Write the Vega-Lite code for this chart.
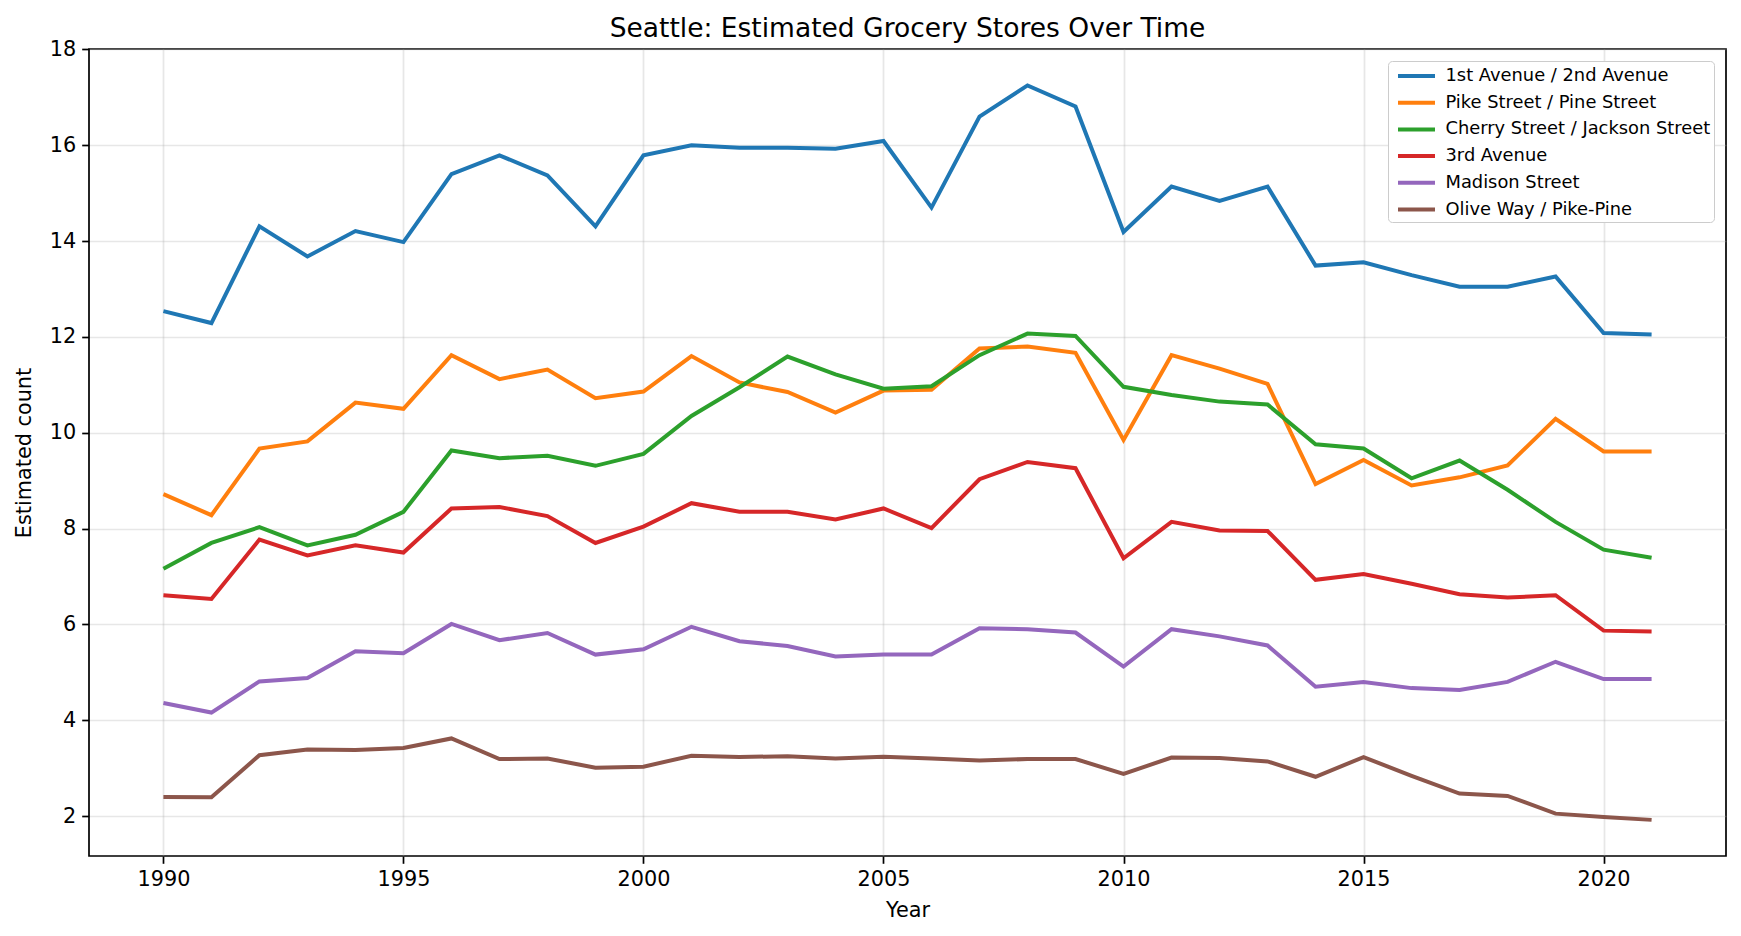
{
  "$schema": "https://vega.github.io/schema/vega-lite/v6.json",
  "autosize": "none",
  "width": 1637,
  "height": 807,
  "padding": {"left": 89, "top": 49, "right": 15, "bottom": 80},
  "background": "white",
  "config": {
    "font": "DejaVu Sans",
    "view": {"stroke": "black", "strokeWidth": 1.7}
  },
  "title": {"text": "Seattle: Estimated Grocery Stores Over Time", "fontSize": 26.5, "fontWeight": "normal", "font": "DejaVu Sans", "color": "black", "offset": -4},
  "data": {"values": [
    {"year":1990,"area":"1st Avenue / 2nd Avenue","count":12.54},{"year":1991,"area":"1st Avenue / 2nd Avenue","count":12.29},{"year":1992,"area":"1st Avenue / 2nd Avenue","count":14.31},{"year":1993,"area":"1st Avenue / 2nd Avenue","count":13.68},{"year":1994,"area":"1st Avenue / 2nd Avenue","count":14.21},{"year":1995,"area":"1st Avenue / 2nd Avenue","count":13.98},{"year":1996,"area":"1st Avenue / 2nd Avenue","count":15.40},{"year":1997,"area":"1st Avenue / 2nd Avenue","count":15.79},{"year":1998,"area":"1st Avenue / 2nd Avenue","count":15.37},{"year":1999,"area":"1st Avenue / 2nd Avenue","count":14.31},{"year":2000,"area":"1st Avenue / 2nd Avenue","count":15.79},{"year":2001,"area":"1st Avenue / 2nd Avenue","count":16.00},{"year":2002,"area":"1st Avenue / 2nd Avenue","count":15.95},{"year":2003,"area":"1st Avenue / 2nd Avenue","count":15.95},{"year":2004,"area":"1st Avenue / 2nd Avenue","count":15.93},{"year":2005,"area":"1st Avenue / 2nd Avenue","count":16.09},{"year":2006,"area":"1st Avenue / 2nd Avenue","count":14.70},{"year":2007,"area":"1st Avenue / 2nd Avenue","count":16.60},{"year":2008,"area":"1st Avenue / 2nd Avenue","count":17.25},{"year":2009,"area":"1st Avenue / 2nd Avenue","count":16.81},{"year":2010,"area":"1st Avenue / 2nd Avenue","count":14.19},{"year":2011,"area":"1st Avenue / 2nd Avenue","count":15.14},{"year":2012,"area":"1st Avenue / 2nd Avenue","count":14.84},{"year":2013,"area":"1st Avenue / 2nd Avenue","count":15.14},{"year":2014,"area":"1st Avenue / 2nd Avenue","count":13.49},{"year":2015,"area":"1st Avenue / 2nd Avenue","count":13.56},{"year":2016,"area":"1st Avenue / 2nd Avenue","count":13.29},{"year":2017,"area":"1st Avenue / 2nd Avenue","count":13.05},{"year":2018,"area":"1st Avenue / 2nd Avenue","count":13.05},{"year":2019,"area":"1st Avenue / 2nd Avenue","count":13.26},{"year":2020,"area":"1st Avenue / 2nd Avenue","count":12.08},{"year":2021,"area":"1st Avenue / 2nd Avenue","count":12.05},
    {"year":1990,"area":"Pike Street / Pine Street","count":8.72},{"year":1991,"area":"Pike Street / Pine Street","count":8.28},{"year":1992,"area":"Pike Street / Pine Street","count":9.67},{"year":1993,"area":"Pike Street / Pine Street","count":9.82},{"year":1994,"area":"Pike Street / Pine Street","count":10.63},{"year":1995,"area":"Pike Street / Pine Street","count":10.50},{"year":1996,"area":"Pike Street / Pine Street","count":11.62},{"year":1997,"area":"Pike Street / Pine Street","count":11.12},{"year":1998,"area":"Pike Street / Pine Street","count":11.32},{"year":1999,"area":"Pike Street / Pine Street","count":10.72},{"year":2000,"area":"Pike Street / Pine Street","count":10.86},{"year":2001,"area":"Pike Street / Pine Street","count":11.60},{"year":2002,"area":"Pike Street / Pine Street","count":11.05},{"year":2003,"area":"Pike Street / Pine Street","count":10.85},{"year":2004,"area":"Pike Street / Pine Street","count":10.42},{"year":2005,"area":"Pike Street / Pine Street","count":10.88},{"year":2006,"area":"Pike Street / Pine Street","count":10.90},{"year":2007,"area":"Pike Street / Pine Street","count":11.76},{"year":2008,"area":"Pike Street / Pine Street","count":11.80},{"year":2009,"area":"Pike Street / Pine Street","count":11.67},{"year":2010,"area":"Pike Street / Pine Street","count":9.85},{"year":2011,"area":"Pike Street / Pine Street","count":11.62},{"year":2012,"area":"Pike Street / Pine Street","count":11.34},{"year":2013,"area":"Pike Street / Pine Street","count":11.02},{"year":2014,"area":"Pike Street / Pine Street","count":8.93},{"year":2015,"area":"Pike Street / Pine Street","count":9.43},{"year":2016,"area":"Pike Street / Pine Street","count":8.90},{"year":2017,"area":"Pike Street / Pine Street","count":9.07},{"year":2018,"area":"Pike Street / Pine Street","count":9.32},{"year":2019,"area":"Pike Street / Pine Street","count":10.29},{"year":2020,"area":"Pike Street / Pine Street","count":9.61},{"year":2021,"area":"Pike Street / Pine Street","count":9.61},
    {"year":1990,"area":"Cherry Street / Jackson Street","count":7.16},{"year":1991,"area":"Cherry Street / Jackson Street","count":7.70},{"year":1992,"area":"Cherry Street / Jackson Street","count":8.03},{"year":1993,"area":"Cherry Street / Jackson Street","count":7.65},{"year":1994,"area":"Cherry Street / Jackson Street","count":7.87},{"year":1995,"area":"Cherry Street / Jackson Street","count":8.35},{"year":1996,"area":"Cherry Street / Jackson Street","count":9.63},{"year":1997,"area":"Cherry Street / Jackson Street","count":9.47},{"year":1998,"area":"Cherry Street / Jackson Street","count":9.52},{"year":1999,"area":"Cherry Street / Jackson Street","count":9.31},{"year":2000,"area":"Cherry Street / Jackson Street","count":9.56},{"year":2001,"area":"Cherry Street / Jackson Street","count":10.35},{"year":2002,"area":"Cherry Street / Jackson Street","count":10.95},{"year":2003,"area":"Cherry Street / Jackson Street","count":11.59},{"year":2004,"area":"Cherry Street / Jackson Street","count":11.22},{"year":2005,"area":"Cherry Street / Jackson Street","count":10.92},{"year":2006,"area":"Cherry Street / Jackson Street","count":10.97},{"year":2007,"area":"Cherry Street / Jackson Street","count":11.62},{"year":2008,"area":"Cherry Street / Jackson Street","count":12.07},{"year":2009,"area":"Cherry Street / Jackson Street","count":12.02},{"year":2010,"area":"Cherry Street / Jackson Street","count":10.96},{"year":2011,"area":"Cherry Street / Jackson Street","count":10.79},{"year":2012,"area":"Cherry Street / Jackson Street","count":10.65},{"year":2013,"area":"Cherry Street / Jackson Street","count":10.59},{"year":2014,"area":"Cherry Street / Jackson Street","count":9.76},{"year":2015,"area":"Cherry Street / Jackson Street","count":9.67},{"year":2016,"area":"Cherry Street / Jackson Street","count":9.05},{"year":2017,"area":"Cherry Street / Jackson Street","count":9.42},{"year":2018,"area":"Cherry Street / Jackson Street","count":8.81},{"year":2019,"area":"Cherry Street / Jackson Street","count":8.14},{"year":2020,"area":"Cherry Street / Jackson Street","count":7.56},{"year":2021,"area":"Cherry Street / Jackson Street","count":7.39},
    {"year":1990,"area":"3rd Avenue","count":6.61},{"year":1991,"area":"3rd Avenue","count":6.53},{"year":1992,"area":"3rd Avenue","count":7.77},{"year":1993,"area":"3rd Avenue","count":7.44},{"year":1994,"area":"3rd Avenue","count":7.65},{"year":1995,"area":"3rd Avenue","count":7.50},{"year":1996,"area":"3rd Avenue","count":8.42},{"year":1997,"area":"3rd Avenue","count":8.45},{"year":1998,"area":"3rd Avenue","count":8.26},{"year":1999,"area":"3rd Avenue","count":7.70},{"year":2000,"area":"3rd Avenue","count":8.04},{"year":2001,"area":"3rd Avenue","count":8.53},{"year":2002,"area":"3rd Avenue","count":8.35},{"year":2003,"area":"3rd Avenue","count":8.35},{"year":2004,"area":"3rd Avenue","count":8.19},{"year":2005,"area":"3rd Avenue","count":8.42},{"year":2006,"area":"3rd Avenue","count":8.01},{"year":2007,"area":"3rd Avenue","count":9.03},{"year":2008,"area":"3rd Avenue","count":9.39},{"year":2009,"area":"3rd Avenue","count":9.26},{"year":2010,"area":"3rd Avenue","count":7.38},{"year":2011,"area":"3rd Avenue","count":8.14},{"year":2012,"area":"3rd Avenue","count":7.96},{"year":2013,"area":"3rd Avenue","count":7.95},{"year":2014,"area":"3rd Avenue","count":6.93},{"year":2015,"area":"3rd Avenue","count":7.05},{"year":2016,"area":"3rd Avenue","count":6.85},{"year":2017,"area":"3rd Avenue","count":6.63},{"year":2018,"area":"3rd Avenue","count":6.56},{"year":2019,"area":"3rd Avenue","count":6.61},{"year":2020,"area":"3rd Avenue","count":5.87},{"year":2021,"area":"3rd Avenue","count":5.85},
    {"year":1990,"area":"Madison Street","count":4.36},{"year":1991,"area":"Madison Street","count":4.16},{"year":1992,"area":"Madison Street","count":4.81},{"year":1993,"area":"Madison Street","count":4.88},{"year":1994,"area":"Madison Street","count":5.44},{"year":1995,"area":"Madison Street","count":5.40},{"year":1996,"area":"Madison Street","count":6.01},{"year":1997,"area":"Madison Street","count":5.67},{"year":1998,"area":"Madison Street","count":5.82},{"year":1999,"area":"Madison Street","count":5.37},{"year":2000,"area":"Madison Street","count":5.48},{"year":2001,"area":"Madison Street","count":5.95},{"year":2002,"area":"Madison Street","count":5.65},{"year":2003,"area":"Madison Street","count":5.55},{"year":2004,"area":"Madison Street","count":5.33},{"year":2005,"area":"Madison Street","count":5.37},{"year":2006,"area":"Madison Street","count":5.37},{"year":2007,"area":"Madison Street","count":5.92},{"year":2008,"area":"Madison Street","count":5.90},{"year":2009,"area":"Madison Street","count":5.83},{"year":2010,"area":"Madison Street","count":5.12},{"year":2011,"area":"Madison Street","count":5.90},{"year":2012,"area":"Madison Street","count":5.75},{"year":2013,"area":"Madison Street","count":5.56},{"year":2014,"area":"Madison Street","count":4.70},{"year":2015,"area":"Madison Street","count":4.80},{"year":2016,"area":"Madison Street","count":4.67},{"year":2017,"area":"Madison Street","count":4.63},{"year":2018,"area":"Madison Street","count":4.80},{"year":2019,"area":"Madison Street","count":5.22},{"year":2020,"area":"Madison Street","count":4.86},{"year":2021,"area":"Madison Street","count":4.86},
    {"year":1990,"area":"Olive Way / Pike-Pine","count":2.40},{"year":1991,"area":"Olive Way / Pike-Pine","count":2.39},{"year":1992,"area":"Olive Way / Pike-Pine","count":3.27},{"year":1993,"area":"Olive Way / Pike-Pine","count":3.39},{"year":1994,"area":"Olive Way / Pike-Pine","count":3.38},{"year":1995,"area":"Olive Way / Pike-Pine","count":3.42},{"year":1996,"area":"Olive Way / Pike-Pine","count":3.62},{"year":1997,"area":"Olive Way / Pike-Pine","count":3.19},{"year":1998,"area":"Olive Way / Pike-Pine","count":3.20},{"year":1999,"area":"Olive Way / Pike-Pine","count":3.01},{"year":2000,"area":"Olive Way / Pike-Pine","count":3.03},{"year":2001,"area":"Olive Way / Pike-Pine","count":3.26},{"year":2002,"area":"Olive Way / Pike-Pine","count":3.23},{"year":2003,"area":"Olive Way / Pike-Pine","count":3.25},{"year":2004,"area":"Olive Way / Pike-Pine","count":3.20},{"year":2005,"area":"Olive Way / Pike-Pine","count":3.24},{"year":2006,"area":"Olive Way / Pike-Pine","count":3.20},{"year":2007,"area":"Olive Way / Pike-Pine","count":3.16},{"year":2008,"area":"Olive Way / Pike-Pine","count":3.19},{"year":2009,"area":"Olive Way / Pike-Pine","count":3.19},{"year":2010,"area":"Olive Way / Pike-Pine","count":2.88},{"year":2011,"area":"Olive Way / Pike-Pine","count":3.22},{"year":2012,"area":"Olive Way / Pike-Pine","count":3.21},{"year":2013,"area":"Olive Way / Pike-Pine","count":3.14},{"year":2014,"area":"Olive Way / Pike-Pine","count":2.82},{"year":2015,"area":"Olive Way / Pike-Pine","count":3.23},{"year":2016,"area":"Olive Way / Pike-Pine","count":2.84},{"year":2017,"area":"Olive Way / Pike-Pine","count":2.47},{"year":2018,"area":"Olive Way / Pike-Pine","count":2.42},{"year":2019,"area":"Olive Way / Pike-Pine","count":2.05},{"year":2020,"area":"Olive Way / Pike-Pine","count":1.98},{"year":2021,"area":"Olive Way / Pike-Pine","count":1.92}
  ]},
  "mark": {"type": "line", "strokeWidth": 4, "clip": true},
  "encoding": {
    "x": {
      "field": "year", "type": "quantitative",
      "scale": {"domain": [1988.45, 2022.55], "nice": false, "zero": false},
      "axis": {"title": "Year", "values": [1990, 1995, 2000, 2005, 2010, 2015, 2020], "format": "d",
        "labelFontSize": 20.8, "titleFontSize": 20.8, "titleFontWeight": "normal", "labelColor": "black", "titleColor": "black",
        "tickColor": "black", "tickSize": 7.3, "tickWidth": 1.7, "domain": false,
        "grid": true, "gridColor": "#b0b0b0", "gridOpacity": 0.3, "gridWidth": 1.7, "labelPadding": 6, "titlePadding": 11.5}
    },
    "y": {
      "field": "count", "type": "quantitative",
      "scale": {"domain": [1.166, 18.01], "nice": false, "zero": false},
      "axis": {"title": "Estimated count", "values": [2, 4, 6, 8, 10, 12, 14, 16, 18],
        "labelFontSize": 20.8, "titleFontSize": 20.8, "titleFontWeight": "normal", "labelColor": "black", "titleColor": "black",
        "tickColor": "black", "tickSize": 7.3, "tickWidth": 1.7, "domain": false,
        "grid": true, "gridColor": "#b0b0b0", "gridOpacity": 0.3, "gridWidth": 1.7, "labelPadding": 6, "titlePadding": 14.5}
    },
    "color": {
      "field": "area", "type": "nominal",
      "scale": {
        "domain": ["1st Avenue / 2nd Avenue", "Pike Street / Pine Street", "Cherry Street / Jackson Street", "3rd Avenue", "Madison Street", "Olive Way / Pike-Pine"],
        "range": ["#1f77b4", "#ff7f0e", "#2ca02c", "#d62728", "#9467bd", "#8c564b"]
      },
      "legend": {
        "title": null, "orient": "none", "legendX": 1299, "legendY": 12,
        "symbolType": "M-0.5,0H3.2", "symbolStrokeWidth": 4, "symbolSize": 400, "symbolFillColor": "transparent",
        "labelFontSize": 17.85, "labelColor": "black", "labelLimit": 500, "rowPadding": 5.7, "labelOffset": 30.5,
        "fillColor": "white", "strokeColor": "#cccccc", "cornerRadius": 4, "padding": 3
      }
    }
  }
}
